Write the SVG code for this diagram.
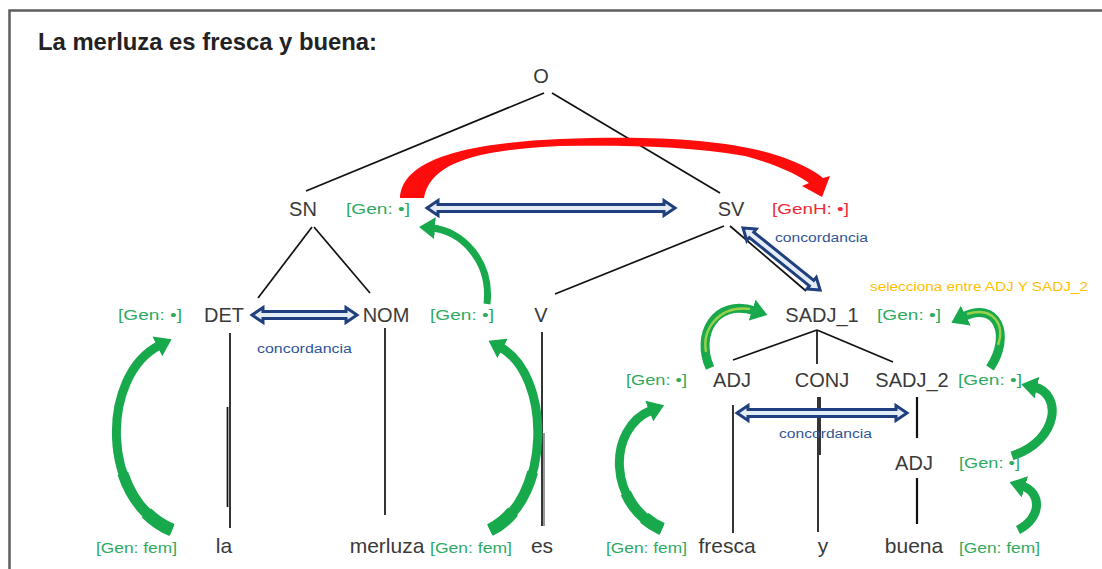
<svg xmlns="http://www.w3.org/2000/svg" width="1102" height="569" viewBox="0 0 1102 569">
<defs>
<style>
.t{font-family:"Liberation Sans","Arial",sans-serif;font-size:20px;fill:#3a3a3a;text-anchor:middle}
.w{font-family:"Liberation Sans","Arial",sans-serif;font-size:21px;fill:#3a3a3a;text-anchor:middle}
.g{font-family:"Liberation Sans","Arial",sans-serif;font-size:14px;fill:#2faa5f}
.r{font-family:"Liberation Sans","Arial",sans-serif;font-size:14px;fill:#ee2b36}
.c{font-family:"Liberation Sans","Arial",sans-serif;font-size:12px;fill:#2f5597}
.o{font-family:"Liberation Sans","Arial",sans-serif;font-size:12px;fill:#ffc000}
.ln{stroke:#111;stroke-width:1.7;fill:none}
.ba{fill:#e4ecf7;stroke:#1f3f7f;stroke-width:3;stroke-linejoin:miter}
.ga{fill:none;stroke:#17a94b;stroke-width:9;stroke-linecap:butt}
.gm{fill:none;stroke:#17a94b;stroke-width:11;stroke-linecap:butt}
.gt{fill:none;stroke:#17a94b;stroke-width:13;stroke-linecap:butt}
.gs{fill:none;stroke:#9bd04a;stroke-width:2.5}
</style>
<marker id="gh" viewBox="0 -11 16 22" refX="3" refY="0" markerWidth="16" markerHeight="22" markerUnits="userSpaceOnUse" orient="auto">
<path d="M0,-11 L16,0 L0,11 Z" fill="#17a94b"/>
</marker>
</defs>
<rect x="9.5" y="10.5" width="1100" height="570" fill="#fff" stroke="#5e5e5e" stroke-width="2.5"/>
<text x="38" y="50" font-family="Liberation Sans, Arial, sans-serif" font-size="24" font-weight="bold" fill="#222" textLength="339" lengthAdjust="spacingAndGlyphs">La merluza es fresca y buena:</text>

<g id="connectors">
<line class="ln" x1="544" y1="93" x2="306" y2="191"/>
<line class="ln" x1="552" y1="93" x2="720" y2="193"/>
<line class="ln" x1="312" y1="227" x2="258" y2="298"/>
<line class="ln" x1="314" y1="227" x2="370" y2="293"/>
<line class="ln" x1="724" y1="226" x2="555" y2="294"/>
<line class="ln" x1="730" y1="226" x2="806" y2="291"/>
<line class="ln" x1="817" y1="330" x2="733" y2="360"/>
<line class="ln" x1="817" y1="330" x2="817" y2="364"/>
<line class="ln" x1="817" y1="330" x2="893" y2="362"/>
<line class="ln" x1="230" y1="333" x2="230" y2="528"/>
<line class="ln" x1="227.5" y1="407" x2="227.5" y2="507"/>
<line class="ln" x1="385" y1="328" x2="385" y2="515"/>
<line class="ln" x1="542" y1="332" x2="542" y2="526"/>
<line class="ln" x1="544" y1="433" x2="544" y2="526" style="stroke:#555;stroke-width:1.2"/>
<line class="ln" x1="733" y1="405" x2="733" y2="533"/>
<line class="ln" x1="818" y1="397" x2="818" y2="532"/>
<line class="ln" x1="820" y1="397" x2="820" y2="455"/>
<line class="ln" x1="917" y1="397" x2="917" y2="438" style="stroke-width:2.2"/>
<line class="ln" x1="917" y1="478" x2="917" y2="524" style="stroke-width:2.2"/>

<path fill="#ff0d0d" d="M400 198 C402 158 470 143 560 139 C660 135 740 140 790 160 C805 166 816 172 823 178 L830 176 L822 197 L802 186 L809 183 C800 176 775 164 745 156 C690 146 620 145 560 146 C470 150 430 165 424 198 Z"/>

<g transform="translate(427,208)"><polygon class="ba" points="0,0 11,-7.5 11,-3.5 237,-3.5 237,-7.5 248,0 237,7.5 237,3.5 11,3.5 11,7.5"/></g>
<g transform="translate(252,315)"><polygon class="ba" points="0,0 11,-7.5 11,-3.5 94,-3.5 94,-7.5 105,0 94,7.5 94,3.5 11,3.5 11,7.5"/></g>
<g transform="translate(737,413)"><polygon class="ba" points="0,0 11,-7.5 11,-3.5 159,-3.5 159,-7.5 170,0 159,7.5 159,3.5 11,3.5 11,7.5"/></g>
<g transform="translate(743,228) rotate(38.8)"><polygon class="ba" points="0,0 11,-7.5 11,-3.5 88,-3.5 88,-7.5 99,0 88,7.5 88,3.5 11,3.5 11,7.5"/></g>

<path class="ga" marker-end="url(#gh)" d="M172 530 C100 500 100 375 160 345"/>
<path class="gm" pathLength="100" stroke-dasharray="35 200" d="M172 530 C100 500 100 375 160 345"/>
<path class="gt" pathLength="100" stroke-dasharray="14 200" d="M172 530 C100 500 100 375 160 345"/>
<path class="ga" marker-end="url(#gh)" d="M490 530 C552 500 552 375 500 347"/>
<path class="gm" pathLength="100" stroke-dasharray="35 200" d="M490 530 C552 500 552 375 500 347"/>
<path class="gt" pathLength="100" stroke-dasharray="14 200" d="M490 530 C552 500 552 375 500 347"/>
<path class="ga" style="stroke-width:7" marker-end="url(#gh)" d="M487 304 C492 260 460 230 432 228"/>
<path class="ga" marker-end="url(#gh)" d="M662 529 C608 505 606 428 652 410"/>
<path class="gm" pathLength="100" stroke-dasharray="35 200" d="M662 529 C608 505 606 428 652 410"/>
<path class="gt" pathLength="100" stroke-dasharray="14 200" d="M662 529 C608 505 606 428 652 410"/>
<path class="ga" marker-end="url(#gh)" d="M710 368 C695 335 715 298 755 311"/>
<path class="gs" d="M706 352 C702 330 718 305 750 309"/>
<path class="ga" marker-end="url(#gh)" d="M990 368 C1012 335 997 300 963 317"/>
<path class="gs" d="M998 345 C1005 325 994 306 967 314"/>
<path class="ga" marker-end="url(#gh)" d="M1012 456 C1060 440 1062 393 1034 387"/>
<path class="ga" marker-end="url(#gh)" d="M1018 530 C1042 518 1042 492 1022 486"/>
</g>

<g id="n-O"><text class="t" x="541" y="83">O</text></g>
<g id="n-SN"><text class="t" x="303" y="216">SN</text><text class="g" x="346" y="214" textLength="64" lengthAdjust="spacingAndGlyphs">[Gen: •]</text></g>
<g id="n-SV"><text class="t" x="731" y="216">SV</text><text class="r" x="772" y="214" textLength="77" lengthAdjust="spacingAndGlyphs">[GenH: •]</text><text class="c" x="775" y="242" textLength="93" lengthAdjust="spacingAndGlyphs">concordancia</text></g>
<g id="n-DET"><text class="t" x="224" y="322">DET</text><text class="g" x="118" y="320" textLength="64" lengthAdjust="spacingAndGlyphs">[Gen: •]</text></g>
<g id="n-NOM"><text class="t" x="386" y="322">NOM</text><text class="g" x="430" y="320" textLength="64" lengthAdjust="spacingAndGlyphs">[Gen: •]</text></g>
<g id="l-conc1"><text class="c" x="257" y="353" textLength="95" lengthAdjust="spacingAndGlyphs">concordancia</text></g>
<g id="n-V"><text class="t" x="541" y="322">V</text></g>
<g id="n-SADJ1"><text class="t" x="822" y="322">SADJ_1</text><text class="g" x="877" y="320" textLength="64" lengthAdjust="spacingAndGlyphs">[Gen: •]</text><text class="o" x="870" y="291" textLength="218" lengthAdjust="spacingAndGlyphs">selecciona entre ADJ Y SADJ_2</text></g>
<g id="n-ADJ"><text class="t" x="732" y="387">ADJ</text><text class="g" x="626" y="385" textLength="61" lengthAdjust="spacingAndGlyphs">[Gen: •]</text></g>
<g id="n-CONJ"><text class="t" x="822" y="387">CONJ</text></g>
<g id="n-SADJ2"><text class="t" x="912" y="387">SADJ_2</text><text class="g" x="958" y="385" textLength="64" lengthAdjust="spacingAndGlyphs">[Gen: •]</text></g>
<g id="l-conc3"><text class="c" x="779" y="438" textLength="93" lengthAdjust="spacingAndGlyphs">concordancia</text></g>
<g id="n-ADJ2"><text class="t" x="914" y="470">ADJ</text><text class="g" x="959" y="468" textLength="61" lengthAdjust="spacingAndGlyphs">[Gen: •]</text></g>
<g id="n-la"><text class="w" x="224" y="553">la</text><text class="g" x="96" y="553" textLength="81" lengthAdjust="spacingAndGlyphs">[Gen: fem]</text></g>
<g id="n-merluza"><text class="w" x="387" y="553">merluza</text><text class="g" x="430" y="553" textLength="82" lengthAdjust="spacingAndGlyphs">[Gen: fem]</text></g>
<g id="n-es"><text class="w" x="542" y="553">es</text></g>
<g id="n-fresca"><text class="w" x="727" y="553">fresca</text><text class="g" x="606" y="553" textLength="81" lengthAdjust="spacingAndGlyphs">[Gen: fem]</text></g>
<g id="n-y"><text class="w" x="823" y="553">y</text></g>
<g id="n-buena"><text class="w" x="914" y="553">buena</text><text class="g" x="959" y="553" textLength="81" lengthAdjust="spacingAndGlyphs">[Gen: fem]</text></g>
</svg>
